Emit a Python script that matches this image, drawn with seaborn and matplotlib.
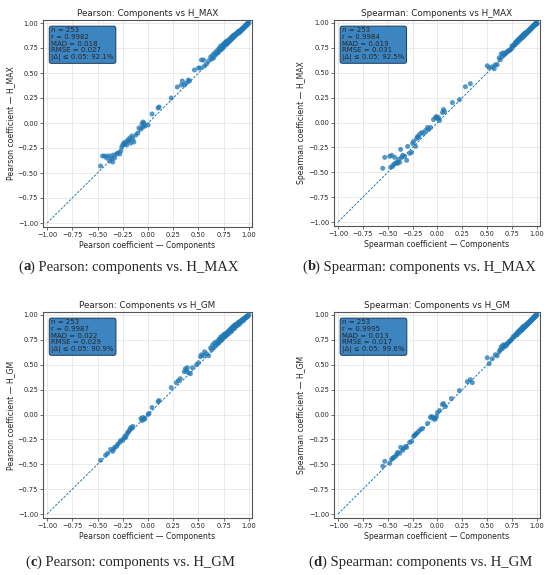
import pandas as pd
import matplotlib
matplotlib.use("Agg")
import matplotlib.pyplot as plt
import seaborn as sns

# (a) Pearson: Components vs H_MAX
pa_x_low = [-0.47, -0.45, -0.43, -0.41, -0.40, -0.38, -0.37, -0.36, -0.35, -0.34, -0.33, -0.31,
            -0.30, -0.28, -0.27, -0.26, -0.25, -0.24, -0.23, -0.22, -0.21, -0.20, -0.19, -0.18,
            -0.17, -0.16, -0.15, -0.14, -0.12, -0.10, -0.09, -0.07, -0.06, -0.05, -0.05, -0.04,
            -0.03, 0.00, 0.04, 0.10, 0.11, 0.23, 0.29, 0.33, 0.34, 0.36, 0.38, 0.40, 0.41, 0.46,
            0.50, 0.52, 0.53, 0.55, 0.56, 0.58, 0.60]
pa_y_low = [-0.43, -0.33, -0.33, -0.35, -0.33, -0.38, -0.33, -0.36, -0.39, -0.32, -0.35, -0.31,
            -0.30, -0.31, -0.28, -0.24, -0.22, -0.20, -0.21, -0.19, -0.22, -0.17, -0.18, -0.15,
            -0.20, -0.13, -0.16, -0.19, -0.12, -0.10, -0.05, -0.06, -0.01, 0.01, -0.04, 0.00,
            -0.03, -0.02, 0.09, 0.15, 0.16, 0.25, 0.36, 0.38, 0.42, 0.38, 0.40, 0.43, 0.42, 0.53,
            0.55, 0.55, 0.63, 0.63, 0.57, 0.59, 0.62]
pa_x_high = [0.62, 0.63, 0.64, 0.65, 0.66, 0.67, 0.68, 0.69, 0.70, 0.70,
             0.71, 0.72, 0.72, 0.73, 0.74, 0.74, 0.75, 0.75, 0.76, 0.77,
             0.77, 0.78, 0.78, 0.79, 0.80, 0.80, 0.81, 0.81, 0.82, 0.82,
             0.83, 0.83, 0.84, 0.84, 0.85, 0.85, 0.86, 0.86, 0.87, 0.87,
             0.88, 0.88, 0.89, 0.89, 0.90, 0.90, 0.91, 0.91, 0.92, 0.92,
             0.93, 0.93, 0.94, 0.94, 0.95, 0.95, 0.96, 0.96, 0.97, 0.97,
             0.98, 0.98, 0.99, 0.99, 1.00]
pa_y_high = [0.66, 0.64, 0.68, 0.65, 0.70, 0.68, 0.72, 0.70, 0.74, 0.71,
             0.75, 0.73, 0.77, 0.74, 0.78, 0.75, 0.79, 0.76, 0.80, 0.78,
             0.81, 0.79, 0.82, 0.80, 0.83, 0.81, 0.84, 0.82, 0.85, 0.83,
             0.86, 0.84, 0.87, 0.85, 0.88, 0.86, 0.88, 0.87, 0.89, 0.88,
             0.90, 0.89, 0.91, 0.90, 0.92, 0.90, 0.92, 0.91, 0.93, 0.92,
             0.94, 0.93, 0.95, 0.94, 0.96, 0.95, 0.96, 0.97, 0.98, 0.97,
             0.98, 0.99, 1.00, 0.99, 1.00]

# (b) Spearman: Components vs H_MAX
sb_x_low = [-0.55, -0.53, -0.48, -0.47, -0.46, -0.45, -0.44, -0.43, -0.42, -0.41, -0.40, -0.39,
            -0.38, -0.37, -0.36, -0.35, -0.33, -0.31, -0.30, -0.28, -0.26, -0.25, -0.24, -0.22,
            -0.21, -0.20, -0.19, -0.18, -0.16, -0.14, -0.12, -0.10, -0.09, -0.07, -0.04, -0.02,
            -0.01, 0.00, 0.01, 0.02, 0.05, 0.06, 0.07, 0.15, 0.22, 0.28, 0.33, 0.50, 0.52, 0.55,
            0.57, 0.58, 0.60]
sb_y_low = [-0.46, -0.35, -0.34, -0.45, -0.33, -0.44, -0.42, -0.35, -0.41, -0.40, -0.41, -0.37,
            -0.40, -0.27, -0.35, -0.33, -0.34, -0.38, -0.24, -0.31, -0.30, -0.21, -0.19, -0.24,
            -0.16, -0.14, -0.15, -0.12, -0.10, -0.11, -0.08, -0.05, -0.07, -0.05, 0.03, 0.05,
            0.06, 0.04, 0.05, 0.02, 0.10, 0.13, 0.11, 0.20, 0.23, 0.36, 0.39, 0.57, 0.55, 0.56,
            0.54, 0.58, 0.58]
sb_x_high = [0.62, 0.63, 0.64, 0.65, 0.66, 0.67, 0.68, 0.69, 0.70, 0.71,
             0.72, 0.73, 0.74, 0.75, 0.75, 0.76, 0.77, 0.78, 0.78, 0.79,
             0.80, 0.80, 0.81, 0.82, 0.82, 0.83, 0.84, 0.84, 0.85, 0.85,
             0.86, 0.86, 0.87, 0.87, 0.88, 0.88, 0.89, 0.89, 0.90, 0.90,
             0.91, 0.91, 0.92, 0.92, 0.93, 0.93, 0.94, 0.94, 0.95, 0.95,
             0.96, 0.96, 0.97, 0.97, 0.98, 0.98, 0.99, 0.99, 1.00, 1.00]
sb_y_high = [0.65, 0.63, 0.69, 0.66, 0.70, 0.68, 0.69, 0.70, 0.71, 0.72,
             0.72, 0.73, 0.74, 0.77, 0.75, 0.77, 0.78, 0.80, 0.78, 0.81,
             0.82, 0.80, 0.83, 0.84, 0.82, 0.85, 0.86, 0.84, 0.87, 0.85,
             0.88, 0.86, 0.89, 0.87, 0.90, 0.88, 0.90, 0.89, 0.91, 0.90,
             0.92, 0.91, 0.93, 0.92, 0.94, 0.93, 0.95, 0.94, 0.96, 0.95,
             0.97, 0.96, 0.97, 0.98, 0.98, 0.99, 0.99, 1.00, 1.00, 0.99]

# (c) Pearson: Components vs H_GM
pc_x_low = [-0.47, -0.42, -0.40, -0.37, -0.35, -0.34, -0.33, -0.31, -0.30, -0.28, -0.27, -0.25,
            -0.24, -0.23, -0.22, -0.21, -0.20, -0.19, -0.18, -0.17, -0.16, -0.15, -0.07, -0.06,
            -0.05, -0.04, -0.03, 0.00, 0.01, 0.04, 0.10, 0.11, 0.23, 0.28, 0.30, 0.32, 0.36, 0.37,
            0.38, 0.39, 0.40, 0.42, 0.44, 0.48, 0.50, 0.52, 0.53, 0.55, 0.56, 0.58, 0.60]
pc_y_low = [-0.46, -0.41, -0.39, -0.35, -0.37, -0.35, -0.33, -0.32, -0.30, -0.28, -0.26, -0.26,
            -0.24, -0.22, -0.23, -0.20, -0.18, -0.17, -0.15, -0.13, -0.14, -0.12, -0.04, -0.06,
            -0.03, -0.05, -0.04, 0.00, 0.01, 0.07, 0.13, 0.14, 0.27, 0.32, 0.34, 0.36, 0.43, 0.46,
            0.44, 0.47, 0.42, 0.41, 0.47, 0.50, 0.52, 0.58, 0.60, 0.59, 0.63, 0.61, 0.59]
pc_x_high = [0.62, 0.63, 0.64, 0.65, 0.66, 0.67, 0.68, 0.69, 0.70, 0.70,
             0.71, 0.72, 0.72, 0.73, 0.74, 0.74, 0.75, 0.76, 0.76, 0.77,
             0.78, 0.78, 0.79, 0.80, 0.80, 0.81, 0.82, 0.82, 0.83, 0.83,
             0.84, 0.85, 0.85, 0.86, 0.86, 0.87, 0.88, 0.88, 0.89, 0.89,
             0.90, 0.91, 0.91, 0.92, 0.92, 0.93, 0.94, 0.94, 0.95, 0.95,
             0.96, 0.97, 0.97, 0.98, 0.98, 0.99, 1.00]
pc_y_high = [0.67, 0.65, 0.70, 0.67, 0.72, 0.69, 0.73, 0.71, 0.75, 0.72,
             0.76, 0.74, 0.78, 0.75, 0.79, 0.76, 0.80, 0.78, 0.81, 0.79,
             0.82, 0.80, 0.83, 0.84, 0.81, 0.85, 0.86, 0.83, 0.87, 0.84,
             0.88, 0.89, 0.86, 0.90, 0.87, 0.90, 0.91, 0.89, 0.92, 0.90,
             0.93, 0.93, 0.91, 0.94, 0.93, 0.95, 0.96, 0.94, 0.96, 0.95,
             0.97, 0.98, 0.97, 0.98, 0.99, 0.99, 1.00]

# (d) Spearman: Components vs H_GM
sd_x_low = [-0.55, -0.53, -0.48, -0.46, -0.45, -0.44, -0.42, -0.41, -0.40, -0.38, -0.37, -0.35,
            -0.34, -0.32, -0.31, -0.28, -0.26, -0.24, -0.23, -0.22, -0.21, -0.19, -0.17, -0.15,
            -0.10, -0.07, -0.06, -0.04, -0.03, -0.02, -0.01, 0.00, 0.02, 0.05, 0.06, 0.08, 0.14,
            0.22, 0.30, 0.33, 0.35, 0.50, 0.52, 0.55, 0.58, 0.60]
sd_y_low = [-0.52, -0.47, -0.49, -0.45, -0.44, -0.43, -0.42, -0.40, -0.38, -0.39, -0.33, -0.36,
            -0.34, -0.32, -0.33, -0.28, -0.27, -0.22, -0.21, -0.20, -0.19, -0.17, -0.15, -0.14,
            -0.09, -0.03, -0.02, -0.03, -0.05, -0.04, -0.02, 0.02, 0.04, 0.10, 0.11, 0.08, 0.16,
            0.24, 0.33, 0.35, 0.32, 0.57, 0.51, 0.56, 0.60, 0.59]
sd_x_high = [0.62, 0.63, 0.64, 0.65, 0.66, 0.67, 0.68, 0.69, 0.70, 0.71,
             0.72, 0.73, 0.74, 0.75, 0.76, 0.77, 0.78, 0.79, 0.80, 0.80,
             0.81, 0.82, 0.82, 0.83, 0.84, 0.84, 0.85, 0.85, 0.86, 0.86,
             0.87, 0.87, 0.88, 0.88, 0.89, 0.89, 0.90, 0.90, 0.91, 0.91,
             0.92, 0.92, 0.93, 0.93, 0.94, 0.94, 0.95, 0.95, 0.96, 0.96,
             0.97, 0.97, 0.98, 0.98, 0.99, 0.99, 1.00]
sd_y_high = [0.63, 0.65, 0.68, 0.66, 0.70, 0.68, 0.70, 0.69, 0.71, 0.72,
             0.73, 0.74, 0.75, 0.76, 0.78, 0.78, 0.80, 0.80, 0.82, 0.80,
             0.83, 0.84, 0.82, 0.85, 0.86, 0.84, 0.87, 0.85, 0.88, 0.86,
             0.89, 0.87, 0.89, 0.88, 0.90, 0.89, 0.91, 0.90, 0.92, 0.91,
             0.93, 0.92, 0.94, 0.93, 0.95, 0.94, 0.96, 0.95, 0.96, 0.97,
             0.97, 0.98, 0.98, 0.99, 0.99, 1.00, 1.00]

stats_a = ["n = 253", "r = 0.9982", "MAD = 0.018", "RMSE = 0.027", "|Δ| ≤ 0.05: 92.1%"]
stats_b = ["n = 253", "r = 0.9984", "MAD = 0.019", "RMSE = 0.031", "|Δ| ≤ 0.05: 92.5%"]
stats_c = ["n = 253", "r = 0.9987", "MAD = 0.022", "RMSE = 0.029", "|Δ| ≤ 0.05: 90.9%"]
stats_d = ["n = 253", "r = 0.9995", "MAD = 0.013", "RMSE = 0.017", "|Δ| ≤ 0.05: 99.6%"]

panels = [
    (pa_x_low + pa_x_high, pa_y_low + pa_y_high, "Pearson", "H_MAX", stats_a, "a"),
    (sb_x_low + sb_x_high, sb_y_low + sb_y_high, "Spearman", "H_MAX", stats_b, "b"),
    (pc_x_low + pc_x_high, pc_y_low + pc_y_high, "Pearson", "H_GM", stats_c, "c"),
    (sd_x_low + sd_x_high, sd_y_low + sd_y_high, "Spearman", "H_GM", stats_d, "d"),
]

sns.set_theme(style="whitegrid")
plt.rcParams['font.family'] = ['DejaVu Sans']

W, H = 550, 575
fig = plt.figure(figsize=(W / 100, H / 100), dpi=100)

# axes boxes in pixels: left, top, width, height
boxes = [(43, 20, 209, 207), (334, 20, 206, 206), (43, 312, 209, 206), (334, 312, 206, 206)]
caption_pos = [(128, 267), (419, 267), (130, 562), (420, 562)]
ticks = [-1.0, -0.75, -0.5, -0.25, 0.0, 0.25, 0.5, 0.75, 1.0]
tick_labels = [f"{v:.2f}".replace("-", "\u2212") for v in ticks]
cap_font = dict(fontsize=10.5, family="Liberation Serif", va="center", ha="left")

renderer = fig.canvas.get_renderer()
for (xs, ys, method, target, stats, tag), (l, t, w, h), (cx, cy) in zip(panels, boxes, caption_pos):
    ax = fig.add_axes([l / W, (H - t - h) / H, w / W, h / H])
    df = pd.DataFrame({"x": xs, "y": ys})
    ax.plot([-1, 1], [-1, 1], ls="--", lw=0.7, color="tab:blue", dashes=(2.5, 1.5))
    sns.scatterplot(data=df, x="x", y="y", ax=ax, s=13, color="tab:blue", alpha=0.75,
                    edgecolor="none")
    ax.set_xlim(-1.04, 1.03)
    ax.set_ylim(-1.04, 1.03)
    ax.set_xticks(ticks)
    ax.set_yticks(ticks)
    ax.set_xticklabels(tick_labels)
    ax.set_yticklabels(tick_labels)
    ax.tick_params(labelsize=4.8, length=2, width=0.5, pad=1.5, left=True, bottom=True,
                   color="#333333")
    ax.grid(color="#e6e6e6", lw=0.6)
    for sp in ax.spines.values():
        sp.set_color("#555555")
        sp.set_linewidth(0.8)
    ax.set_title(f"{method}: Components vs {target}", fontsize=6.3, pad=3)
    ax.set_xlabel(f"{method} coefficient — Components", fontsize=5.6, labelpad=2)
    ax.set_ylabel(f"{method} coefficient — {target}", fontsize=5.6, labelpad=2)
    ax.text(0.04, 0.965, "\n".join(stats), transform=ax.transAxes, fontsize=5.0,
            va="top", ha="left", linespacing=1.15,
            bbox=dict(boxstyle="round,pad=0.3", facecolor="#3d85c1", edgecolor="#1d3a55",
                      linewidth=0.7))

    # caption under the panel, with the letter in bold
    caption = f"{method}: components vs. {target}"
    probe = fig.text(0, 0, f"({tag}) " + caption, **cap_font)
    width = probe.get_window_extent(renderer=renderer).width
    probe.remove()
    xpos = cx - width / 2
    for txt, wt in [("(", "normal"), (tag, "bold"), (") " + caption, "normal")]:
        tt = fig.text(xpos / W, 1 - cy / H, txt, weight=wt, **cap_font)
        xpos = tt.get_window_extent(renderer=renderer).x1

fig.savefig("out.png", dpi=100)
